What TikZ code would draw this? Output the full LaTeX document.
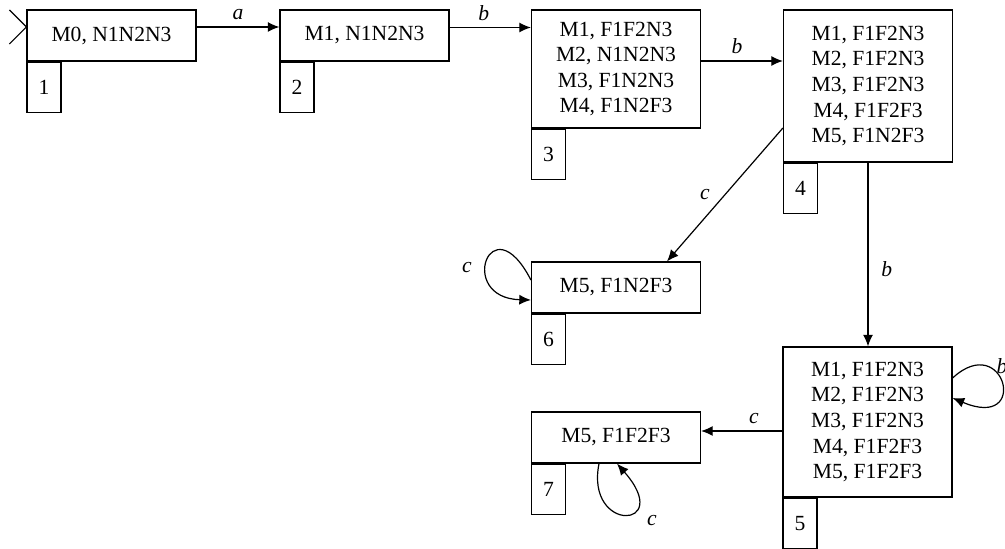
\documentclass[tikz,border=0pt]{standalone}
\usepackage{fontspec}
\setmainfont{Liberation Serif}
\usetikzlibrary{arrows.meta,positioning}

\tikzset{
	state/.style={draw, line width=0.6pt, inner sep=0pt, align=center,
		minimum width=84.5pt, minimum height=25.5pt,
		font=\fontsize{10.8}{12.8}\selectfont},
	numbox/.style={draw, line width=0.6pt, inner sep=0pt, anchor=north west,
		minimum width=17pt, minimum height=25pt,
		font=\fontsize{10.8}{12.8}\selectfont},
	lbl/.style={font=\fontsize{10.8}{12.8}\selectfont\itshape}
}

\begin{document}
\begin{tikzpicture}[x=0.5pt,y=-0.5pt,line width=0.6pt,>={Latex[length=5.8pt,width=5pt]}]
	\useasboundingbox (0,0) rectangle (1005,549);

	\node[state] (q1) at (111.5,35.5) {M0, N1N2N3};
	\node[state] (q2) at (364.5,35.5) {M1, N1N2N3};
	\node[state,minimum height=59pt] (q3) at (616,69) {M1, F1F2N3\\M2, N1N2N3\\M3, F1N2N3\\M4, F1N2F3};
	\node[state,minimum height=76pt] (q4) at (868,86) {M1, F1F2N3\\M2, F1F2N3\\M3, F1F2N3\\M4, F1F2F3\\M5, F1N2F3};
	\node[state,minimum height=75pt] (q5) at (867.5,422) {M1, F1F2N3\\M2, F1F2N3\\M3, F1F2N3\\M4, F1F2F3\\M5, F1F2F3};
	\node[state] (q6) at (616,287.5) {M5, F1N2F3};
	\node[state] (q7) at (616,437.5) {M5, F1F2F3};

	\node[numbox] (n1) at (q1.south west) {1};
	\node[numbox] (n2) at (q2.south west) {2};
	\node[numbox] (n3) at (q3.south west) {3};
	\node[numbox] (n4) at (q4.south west) {4};
	\node[numbox] (n5) at (q5.south west) {5};
	\node[numbox] (n6) at (q6.south west) {6};
	\node[numbox] (n7) at (q7.south west) {7};

	\coordinate (init) at ([yshift=4.25pt]q1.west);
	\draw ([xshift=-8.5pt,yshift=8.5pt]init) -- (init) -- ([xshift=-8.5pt,yshift=-8.5pt]init);

	\draw[->] ([yshift=4.25pt]q1.east) -- node[lbl,above] (la) {a} ([yshift=4.25pt]q2.west);
	\draw[->] ([yshift=4pt]q2.east) -- node[lbl,above,pos=0.42] (lb1) {b} ([yshift=4pt]q2.east -| q3.west);
	\draw[->] ([yshift=4pt]q3.east) -- node[lbl,above,pos=0.44] (lb2) {b} ([yshift=4pt]q3.east -| q4.west);
	\draw[->] ([yshift=-21pt]q4.west) -- node[lbl,left=4pt] (lc1) {c} ([xshift=25.5pt]q6.north);
	\draw[->] (q4.south) -- node[lbl,right=3pt,pos=0.58] (lb3) {b} (q4.south |- q5.north);
	\draw[->] ([yshift=-4.5pt]q5.west) -- node[lbl,above,pos=0.35] (lc2) {c} ([yshift=-4.5pt]q5.west -| q7.east);

	\draw[->] ([yshift=3.75pt]q6.west) .. controls +(-40,-78) and +(-75,-2) .. ([yshift=-6.25pt]q6.west);
	\node[lbl] (lc3) at (467,268) {c};
	\draw[->] ([yshift=22pt]q5.east) .. controls +(52,-48) and +(78,33) .. ([yshift=12pt]q5.east);
	\node[lbl] (lb4) at (1002,366) {b};
	\draw[->] ([xshift=-8.5pt]q7.south) .. controls +(-14,70) and +(58,66) .. ([xshift=0.5pt]q7.south);
	\node[lbl] (lc4) at (652,521) {c};
\end{tikzpicture}
\end{document}
